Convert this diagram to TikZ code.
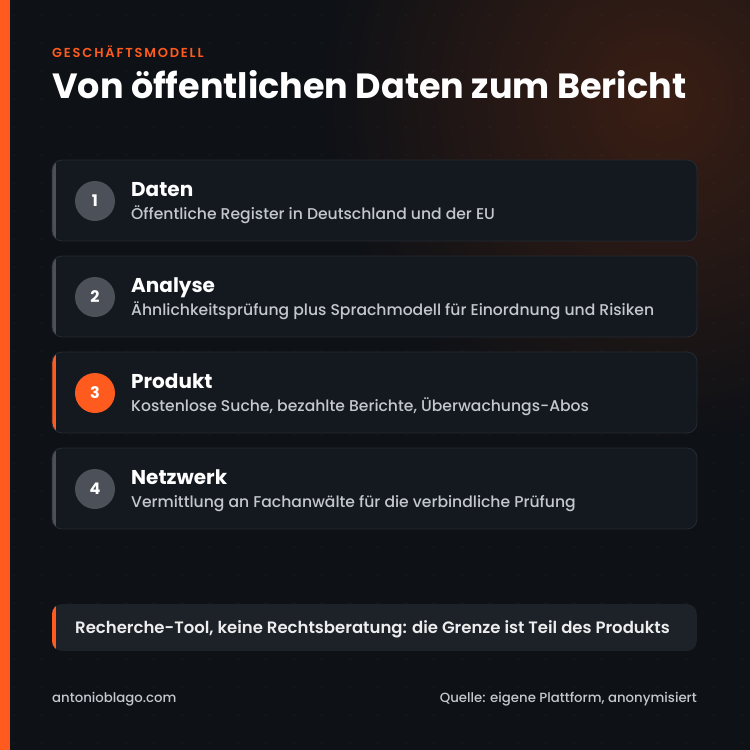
\documentclass[tikz,border=0pt]{standalone}
\usepackage{fontspec}
\setmainfont{Poppins}[UprightFont={* Medium},BoldFont={* Bold}]
\newfontfamily\semibold{Poppins SemiBold}
\definecolor{BgDark}{HTML}{0E1116}
\definecolor{Glow}{HTML}{3A1E14}
\definecolor{Brand}{HTML}{FF5B1F}
\definecolor{CardFill}{HTML}{141920}
\definecolor{CardLine}{HTML}{262B33}
\definecolor{StepGrey}{HTML}{4B5059}
\definecolor{SubText}{HTML}{C4C8CE}
\definecolor{FootText}{HTML}{C4C8CE}

\begin{document}
\begin{tikzpicture}[x=1pt,y=-1pt,
 card/.style={fill=CardFill,draw=CardLine,line width=.8pt,rounded corners=10pt},
 stepnum/.style={circle,fill=StepGrey,minimum size=40pt,inner sep=0pt,
  text=white,font=\bfseries\fontsize{16}{16}\selectfont},
 cardhead/.style={anchor=base west,inner sep=0pt,text=white,
  font=\bfseries\fontsize{20}{22}\selectfont},
 cardsub/.style={anchor=base west,inner sep=0pt,text=SubText,
  font=\fontsize{15.6}{17}\selectfont},
 foot/.style={anchor=base,inner sep=0pt,text=FootText,
  font=\fontsize{13.3}{15}\selectfont}]

\useasboundingbox (0,0) rectangle (750,750);
\fill[BgDark] (0,0) rectangle (750,750);
\begin{scope}
\clip (0,0) rectangle (750,750);
\shade[inner color=Glow,outer color=BgDark] (660,100) circle (340);
\end{scope}
% dot grid
\foreach \x in {14,42,...,742}
 \foreach \y in {15,43,...,743}
  \fill[white,opacity=.05] (\x,\y) circle (.9);
\fill[Brand] (0,0) rectangle (10,750);

\node[anchor=base west,inner sep=0pt,text=Brand,
 font=\semibold\fontsize{13}{15}\selectfont\addfontfeature{LetterSpace=14}]
 (kicker) at (52,57) {GESCHÄFTSMODELL};
\node[anchor=base west,inner sep=0pt,text=white,
 font=\bfseries\fontsize{35}{38}\selectfont]
 (title) at (52,98) {Von öffentlichen Daten zum Bericht};

% steps
\foreach \i/\head/\sub/\acc in {
 1/Daten/Öffentliche Register in Deutschland und der EU/StepGrey,
 2/Analyse/Ähnlichkeitsprüfung plus Sprachmodell für Einordnung und Risiken/StepGrey,
 3/Produkt/{Kostenlose Suche, bezahlte Berichte, Überwachungs-Abos}/Brand,
 4/Netzwerk/Vermittlung an Fachanwälte für die verbindliche Prüfung/StepGrey}{
 \pgfmathsetmacro{\top}{160+96*(\i-1)}
 \begin{scope}
 \clip[rounded corners=10pt] (52,\top) rectangle (697,\top+81);
 \fill[CardFill] (52,\top) rectangle (697,\top+81);
 \fill[\acc] (52,\top) rectangle (55.5,\top+81);
 \end{scope}
 \draw[card,fill=none] (52,\top) rectangle (697,\top+81);
 \node[stepnum,fill=\acc] (num\i) at (95,\top+41) {\i};
 \node[cardhead] (head\i) at (131,\top+36) {\head};
 \node[cardsub] (sub\i) at (131,\top+59) {\sub};
}

% note
\begin{scope}
\clip[rounded corners=10pt] (52,604) rectangle (697,651);
\fill[CardFill!96!white] (52,604) rectangle (697,651);
\fill[Brand] (52,604) rectangle (55.5,651);
\end{scope}
\node[anchor=base west,inner sep=0pt,text=white!93!black,
 font=\semibold\fontsize{16.5}{18}\selectfont]
 (note) at (75,633) {Recherche-Tool, keine Rechtsberatung: die Grenze ist Teil des Produkts};

\node[foot,anchor=base west] (site) at (52,702) {antonioblago.com};
\node[foot,anchor=base east] (source) at (697,702) {Quelle: eigene Plattform, anonymisiert};
\end{tikzpicture}
\end{document}
